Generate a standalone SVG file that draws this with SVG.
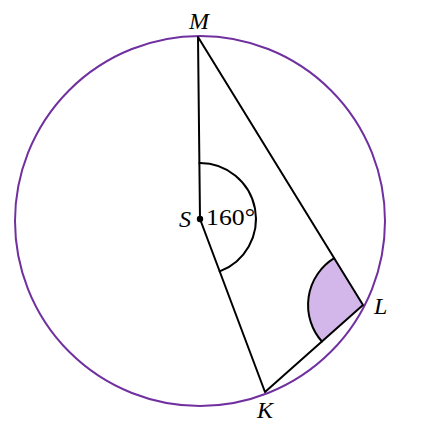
<svg xmlns="http://www.w3.org/2000/svg" width="438" height="438" viewBox="0 0 438 438">
<style>
.ln{stroke:#000;stroke-width:2;fill:none;stroke-linecap:round;stroke-linejoin:round}
.lb{font-family:"Liberation Serif","Times New Roman",serif;font-style:italic;font-size:24px;fill:#000}
.nm{font-family:"Liberation Serif","Times New Roman",serif;font-size:23px;fill:#000}
</style>
<rect width="438" height="438" fill="#fff"/>
<g id="circle">
<circle cx="200" cy="221" r="185" fill="none" stroke="#7030A0" stroke-width="2"/>
</g>
<g id="angle-L">
<path d="M363,305 L334.2,258.2 A55,55 0 0 0 321.9,341.5 Z" fill="#D4B7EA" stroke="none"/>
<path d="M334.2,258.2 A55,55 0 0 0 321.9,341.5" class="ln"/>
</g>
<g id="connectors">
<path d="M198,37 L363,305 L265,392 L200,219 Z" class="ln"/>
<path d="M199.4,163 A56,56 0 0 1 219.7,271.4" class="ln"/>
</g>
<g id="S">
<circle cx="200" cy="219" r="3.2" fill="#000"/>
<text class="lb" x="191" y="227" text-anchor="end">S</text>
<text class="nm" x="206" y="225" textLength="49" lengthAdjust="spacingAndGlyphs">160°</text>
</g>
<g id="M"><text class="lb" x="199" y="29" text-anchor="middle">M</text></g>
<g id="K"><text class="lb" x="265" y="418" text-anchor="middle">K</text></g>
<g id="L"><text class="lb" x="374" y="314">L</text></g>
</svg>
